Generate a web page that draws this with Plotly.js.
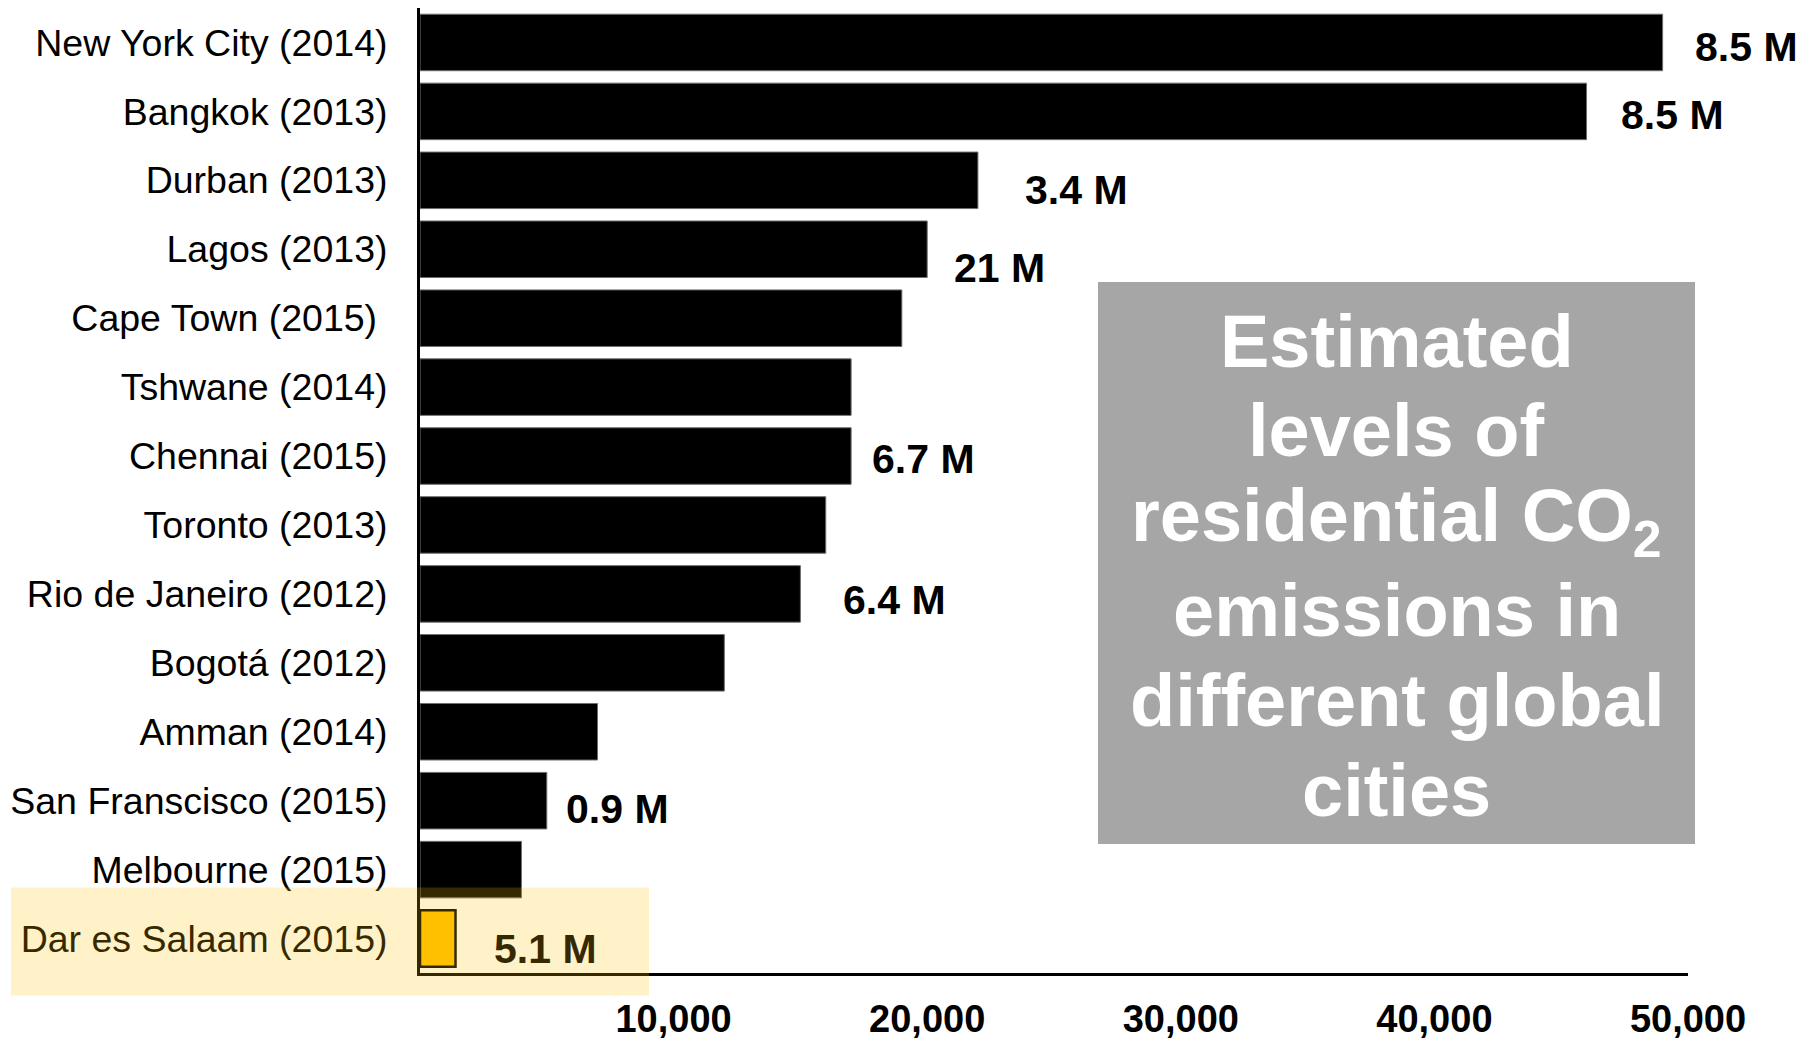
<!DOCTYPE html>
<html>
<head>
<meta charset="utf-8">
<script src="https://cdn.plot.ly/plotly-3.0.1.min.js"></script>
<style>
  html, body { margin: 0; padding: 0; background: #ffffff; }
  #chart { width: 1805px; height: 1041px; }
</style>
</head>
<body>
<div id="chart"></div>
<script>
// Residential CO2 emissions by city (horizontal bars), with city population labels
const cities = [
  "New York City (2014)", "Bangkok (2013)", "Durban (2013)", "Lagos (2013)",
  "Cape Town (2015)\u00a0", "Tshwane (2014)", "Chennai (2015)", "Toronto (2013)",
  "Rio de Janeiro (2012)", "Bogotá (2012)", "Amman (2014)", "San Franscisco (2015)",
  "Melbourne (2015)", "Dar es Salaam (2015)"
];
const emissions = [49000, 46000, 22000, 20000, 19000, 17000, 17000, 16000, 15000, 12000, 7000, 5000, 4000, 1400];
const population = ["8.5 M", "8.5 M", "3.4 M", "21 M", "", "", "6.7 M", "", "6.4 M", "", "", "0.9 M", "", "5.1 M"];
const xTickValues = [10000, 20000, 30000, 40000, 50000];
const highlightCity = "Dar es Salaam (2015)";
const titleLines = ["Estimated", "levels of", "residential CO<sub>2</sub>", "emissions in", "different global", "cities"];

// Layout geometry (pixels)
const W = 1805, H = 1041;
const M = { l: 420, r: 117, t: 8, b: 68 };
const plotW = W - M.l - M.r, plotH = H - M.t - M.b;
const xMax = 50000;

// Per-label nudges in pixels: gap after bar end, and downward shift
const labelGapPx  = [30, 32, 45, 25, 0, 0, 19, 0, 41, 0, 0, 17, 0, 36];
const labelDropPx = [5, 4, 10, 19, 0, 0, 3, 0, 6, 0, 0, 8, 0, 10];

// Highlight band tint (gold at low opacity); black seen through it
const tint = { r: 255, g: 192, b: 0, a: 0.21 };
const tintFill = `rgba(${tint.r},${tint.g},${tint.b},${tint.a})`;
const tintedBlack = `rgb(${Math.round(tint.r * tint.a)},${Math.round(tint.g * tint.a)},${Math.round(tint.b * tint.a)})`;

const FONT = "Liberation Sans, Arial, sans-serif";
const rows = cities.map((_, i) => i);
const hiIndex = cities.indexOf(highlightCity);

const barColors = cities.map(c => c === highlightCity ? "#FFC000" : "#000000");
const barLineColors = cities.map(c => c === highlightCity ? "#000000" : "#6e6e6e");
const barLineWidths = cities.map(c => c === highlightCity ? 2.5 : 1);

const bars = {
  type: "bar",
  orientation: "h",
  x: emissions,
  y: rows,
  marker: { color: barColors, line: { color: barLineColors, width: barLineWidths } },
  hoverinfo: "x+text",
  hovertext: cities
};

// Population labels beside the bars
const labelAnnotations = [];
population.forEach((p, i) => {
  if (!p) return;
  labelAnnotations.push({
    xref: "x", yref: "y",
    x: emissions[i], y: rows[i],
    xanchor: "left", yanchor: "middle",
    xshift: labelGapPx[i], yshift: -labelDropPx[i],
    showarrow: false,
    text: p,
    font: {
      family: FONT, size: 41, weight: "bold",
      color: cities[i] === highlightCity ? tintedBlack : "#000000"
    }
  });
});

// Title panel text, one annotation per line
const titleTop = 341, titleStep = 89.8, titleX = 1396.5;
const titleAnnotations = titleLines.map((t, k) => ({
  xref: "paper", yref: "paper",
  x: (titleX - M.l) / plotW,
  y: (H - M.b - (titleTop + k * titleStep)) / plotH,
  xanchor: "center", yanchor: "middle",
  showarrow: false,
  text: t,
  font: { family: FONT, size: 74, color: "#ffffff", weight: "bold" }
}));

const layout = {
  width: W,
  height: H,
  margin: M,
  paper_bgcolor: "#ffffff",
  plot_bgcolor: "#ffffff",
  showlegend: false,
  bargap: 0.18,
  xaxis: {
    range: [0, xMax],
    tickvals: xTickValues,
    tickformat: ",d",
    ticks: "",
    showgrid: false,
    zeroline: false,
    showline: true,
    linecolor: "#000000",
    linewidth: 3,
    ticklabelstandoff: 10,
    tickfont: { family: FONT, size: 38, color: "#000000", weight: "bold" },
    automargin: false,
    fixedrange: true
  },
  yaxis: {
    range: [cities.length - 0.5, -0.5],
    tickvals: rows,
    ticktext: cities,
    ticks: "",
    showgrid: false,
    zeroline: false,
    showline: true,
    linecolor: "#000000",
    linewidth: 3,
    ticklabelstandoff: 22,
    tickfont: { family: FONT, size: 37.5, color: "#000000" },
    automargin: false,
    fixedrange: true
  },
  shapes: [
    // grey title panel
    {
      type: "rect", layer: "below",
      xref: "paper", yref: "paper",
      x0: (1098 - M.l) / plotW, x1: (1695 - M.l) / plotW,
      y0: (H - M.b - 844) / plotH, y1: (H - M.b - 282) / plotH,
      fillcolor: "#A6A6A6", line: { width: 0 }
    },
    // translucent highlight band across the Dar es Salaam row
    {
      type: "rect", layer: "above",
      xref: "paper", yref: "paper",
      xsizemode: "pixel", ysizemode: "pixel",
      xanchor: 0, yanchor: (cities.length - 0.5 - hiIndex) / cities.length,
      x0: -409, x1: 229, y0: -57, y1: 51,
      fillcolor: tintFill, line: { width: 0 }
    }
  ],
  annotations: labelAnnotations.concat(titleAnnotations)
};

Plotly.newPlot("chart", [bars], layout, { displayModeBar: false, staticPlot: true });
</script>
</body>
</html>
